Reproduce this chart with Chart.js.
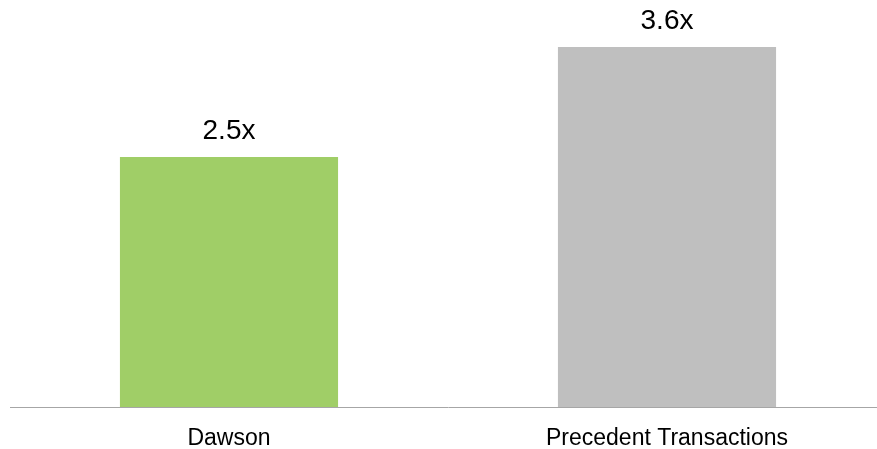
<!DOCTYPE html>
<html>
<head>
<meta charset="utf-8">
<script src="https://cdn.jsdelivr.net/npm/chart.js@4/dist/chart.umd.min.js"></script>
<style>
html,body{margin:0;padding:0;background:#fff;overflow:hidden;width:877px;height:449px;}
#c{display:block;}
</style>
</head>
<body>
<canvas id="c" width="886" height="449"></canvas>
<script>
const categories = ["Dawson", "Precedent Transactions"];
const values = [2.5, 3.6];
const valueLabels = ["2.5x", "3.6x"];
const barColors = ["#A0CE67", "#BFBFBF"];

const labelPlugin = {
  id: 'valueLabels',
  afterDatasetsDraw(chart) {
    const ctx = chart.ctx;
    const meta = chart.getDatasetMeta(0);
    ctx.save();
    ctx.font = '28px "Liberation Sans", Arial, sans-serif';
    ctx.fillStyle = '#000';
    ctx.textAlign = 'center';
    ctx.textBaseline = 'alphabetic';
    meta.data.forEach((bar, i) => {
      ctx.fillText(valueLabels[i], bar.x, bar.y - 18);
    });
    ctx.restore();
  }
};

new Chart(document.getElementById('c'), {
  type: 'bar',
  data: {
    labels: categories,
    datasets: [{
      data: values,
      backgroundColor: barColors,
      borderWidth: 0,
      barPercentage: 0.498,
      categoryPercentage: 1.0
    }]
  },
  options: {
    responsive: false,
    animation: false,
    layout: { padding: { left: 10, right: 0, top: 0, bottom: 0 } },
    plugins: { legend: { display: false }, tooltip: { enabled: false } },
    scales: {
      x: {
        grid: { display: false, drawTicks: false },
        border: { display: true, color: '#A6A6A6', width: 1 },
        ticks: {
          color: '#000',
          font: { family: '"Liberation Sans", Arial, sans-serif', size: 23 },
          padding: 18,
          maxRotation: 0,
          autoSkip: false
        },
        afterFit(scale) { scale.height = 42; }
      },
      y: {
        display: false,
        min: 0,
        max: 4.07
      }
    }
  },
  plugins: [labelPlugin]
});
</script>
</body>
</html>
